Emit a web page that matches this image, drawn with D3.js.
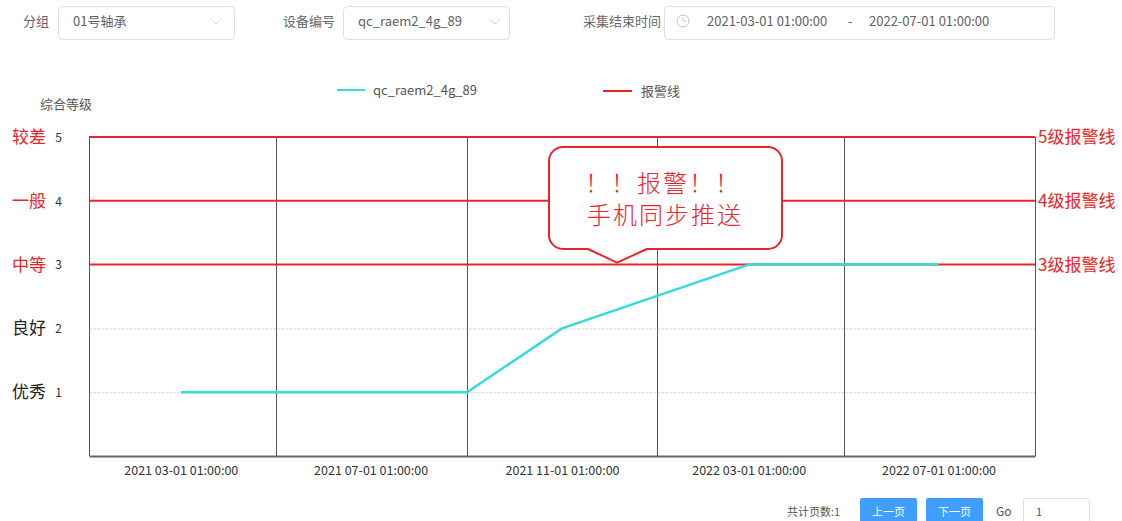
<!DOCTYPE html>
<html>
<head>
<meta charset="utf-8">
<script src="https://cdn.jsdelivr.net/npm/d3@7"></script>
<style>
  html, body { margin: 0; padding: 0; background: #fff; }
  svg { display: block; }
  text { font-family: "Noto Sans CJK SC", "Noto Sans", sans-serif; }
</style>
</head>
<body>
<svg id="chart" width="1122" height="521"></svg>
<script>
// Collection times and overall grade of device qc_raem2_4g_89
const sampleTimes = ["2021-03-01 01:00:00", "2021-09-01 01:00:00", "2021-11-01 01:00:00", "2022-03-01 01:00:00", "2022-07-01 01:00:00"];
const gradeValues = [1, 1, 2, 3, 3];

// x axis: labelled dates and the band boundaries between them
const tickTimes = ["2021-03-01 01:00:00", "2021-07-01 01:00:00", "2021-11-01 01:00:00", "2022-03-01 01:00:00", "2022-07-01 01:00:00"];
const tickLabels = ["2021 03-01 01:00:00", "2021 07-01 01:00:00", "2021 11-01 01:00:00", "2022 03-01 01:00:00", "2022 07-01 01:00:00"];
const bandEdges = ["2021-01-01 01:00:00", "2021-05-01 01:00:00", "2021-09-01 01:00:00", "2022-01-01 01:00:00", "2022-05-01 01:00:00", "2022-09-01 01:00:00"];

// y axis: grade levels and their names
const gradeLevels = [1, 2, 3, 4, 5];
const gradeNames = ["优秀", "良好", "中等", "一般", "较差"];

// alarm thresholds
const alarmLevels = [3, 4, 5];
const alarmLabels = ["3级报警线", "4级报警线", "5级报警线"];

const RED = "#e8262a";
const CYAN = "#33dcd4";

const parse = d3.timeParse("%Y-%m-%d %H:%M:%S");
const svg = d3.select("#chart");

const plot = { left: 89, right: 1035, top: 137, bottom: 456 };
const x = d3.scaleTime()
  .domain([parse(bandEdges[0]), parse(bandEdges[bandEdges.length - 1])])
  .range([plot.left, plot.right]);
const y = d3.scaleLinear().domain([0, 5]).range([plot.bottom, plot.top]);

// ---------- filter bar ----------
const ui = svg.append("g");
function label(tx, ty, s) {
  ui.append("text").attr("x", tx).attr("y", ty).attr("dy", "0.35em")
    .attr("font-size", 13).attr("fill", "#666").text(s);
}
function box(bx, bw) {
  ui.append("rect").attr("x", bx + 0.5).attr("y", 6.5).attr("width", bw).attr("height", 33)
    .attr("rx", 4).attr("fill", "#fff").attr("stroke", "#dcdfe6");
}
function chevron(cx) {
  ui.append("path").attr("d", `M${cx - 5},${19} L${cx},${24} L${cx + 5},${19}`)
    .attr("fill", "none").attr("stroke", "#c8ccd3").attr("stroke-width", 0.8);
}
label(23, 21, "分组");
box(58, 176);
ui.append("text").attr("x", 73).attr("y", 21).attr("dy", "0.35em").attr("font-size", 13).attr("fill", "#606266").text("01号轴承");
chevron(216);

label(283, 21, "设备编号");
box(343, 166);
ui.append("text").attr("x", 358).attr("y", 21).attr("dy", "0.35em").attr("font-size", 13).attr("fill", "#606266").text("qc_raem2_4g_89");
chevron(495);

label(583, 21, "采集结束时间");
box(664, 390);
ui.append("circle").attr("cx", 683).attr("cy", 21).attr("r", 6).attr("fill", "none").attr("stroke", "#c0c4cc");
ui.append("path").attr("d", "M683,17.5 L683,21 L686,21").attr("fill", "none").attr("stroke", "#c0c4cc");
ui.append("text").attr("x", 707).attr("y", 21).attr("dy", "0.35em").attr("font-size", 13).attr("fill", "#606266").text("2021-03-01 01:00:00");
ui.append("text").attr("x", 848).attr("y", 21).attr("dy", "0.35em").attr("font-size", 13).attr("fill", "#606266").text("-");
ui.append("text").attr("x", 869).attr("y", 21).attr("dy", "0.35em").attr("font-size", 13).attr("fill", "#606266").text("2022-07-01 01:00:00");

// ---------- legend ----------
const legend = svg.append("g");
legend.append("line").attr("x1", 337).attr("x2", 365).attr("y1", 90).attr("y2", 90).attr("stroke", CYAN).attr("stroke-width", 2);
legend.append("text").attr("x", 373).attr("y", 90).attr("dy", "0.35em").attr("font-size", 13).attr("fill", "#555").text("qc_raem2_4g_89");
legend.append("line").attr("x1", 603).attr("x2", 632).attr("y1", 91).attr("y2", 91).attr("stroke", RED).attr("stroke-width", 2);
legend.append("text").attr("x", 641).attr("y", 91).attr("dy", "0.35em").attr("font-size", 13).attr("fill", "#555").text("报警线");

svg.append("text").attr("x", 40).attr("y", 104).attr("dy", "0.35em").attr("font-size", 13).attr("fill", "#555").text("综合等级");

// ---------- grid ----------
const grid = svg.append("g");
// light horizontal grid for non-alarm levels
grid.selectAll("line.h").data(gradeLevels.filter(v => !alarmLevels.includes(v))).join("line")
  .attr("class", "h")
  .attr("x1", plot.left).attr("x2", plot.right)
  .attr("y1", d => y(d) + 0.5).attr("y2", d => y(d) + 0.5)
  .attr("stroke", "#d8d8d8").attr("stroke-width", 1).attr("stroke-dasharray", "3,1");

// vertical band boundaries
grid.selectAll("line.v").data(bandEdges).join("line")
  .attr("class", "v")
  .attr("x1", d => Math.round(x(parse(d))) + 0.5).attr("x2", d => Math.round(x(parse(d))) + 0.5)
  .attr("y1", plot.top).attr("y2", plot.bottom)
  .attr("stroke", "#555").attr("stroke-width", 1);

// x axis line and labels
const xAxis = d3.axisBottom(x)
  .tickValues(tickTimes.map(parse))
  .tickSize(0).tickPadding(10)
  .tickFormat((d, i) => tickLabels[i]);
const gx = svg.append("g").attr("transform", `translate(0,${plot.bottom})`).call(xAxis);
gx.select(".domain").attr("stroke", "#666").attr("stroke-width", 2);
gx.selectAll("text").attr("font-size", 12.5).attr("fill", "#333")
  .attr("font-family", "\"Noto Sans CJK SC\", sans-serif");

// y axis numbers and grade names
const yAxis = d3.axisLeft(y).tickValues(gradeLevels).tickSize(0).tickPadding(0).tickFormat(d3.format("d"));
const gy = svg.append("g").attr("transform", `translate(62,0)`).call(yAxis);
gy.select(".domain").remove();
gy.selectAll("text").attr("font-size", 12).attr("fill", "#333").attr("dy", "0.35em");

svg.append("g").selectAll("text").data(gradeLevels).join("text")
  .attr("x", 12).attr("y", d => y(d)).attr("dy", "0.35em")
  .attr("font-size", 17)
  .attr("fill", d => alarmLevels.includes(d) ? RED : "#222")
  .text((d, i) => gradeNames[i]);

// ---------- alarm lines ----------
const alarms = svg.append("g");
alarms.selectAll("line").data(alarmLevels).join("line")
  .attr("x1", plot.left).attr("x2", plot.right)
  .attr("y1", d => y(d)).attr("y2", d => y(d))
  .attr("stroke", RED).attr("stroke-width", 2);
alarms.selectAll("text").data(alarmLevels).join("text")
  .attr("x", plot.right + 3).attr("y", d => y(d)).attr("dy", "0.35em")
  .attr("font-size", 17).attr("fill", RED)
  .text((d, i) => alarmLabels[i]);

// ---------- grade series ----------
const series = sampleTimes.map((t, i) => ({ t: parse(t), v: gradeValues[i] }));
svg.append("path").datum(series)
  .attr("fill", "none").attr("stroke", CYAN).attr("stroke-width", 2.5).attr("stroke-linejoin", "round")
  .attr("d", d3.line().x(d => x(d.t)).y(d => y(d.v)));

// ---------- alarm callout ----------
const callout = svg.append("g");
const bx0 = 549, bx1 = 782, by0 = 147, by1 = 249, r = 14;
const tipX = 617, tipY = y(3) - 2, pL = 588, pR = 647;
const p = d3.path();
p.moveTo(bx0 + r, by0);
p.lineTo(bx1 - r, by0);
p.arcTo(bx1, by0, bx1, by0 + r, r);
p.lineTo(bx1, by1 - r);
p.arcTo(bx1, by1, bx1 - r, by1, r);
p.lineTo(pR, by1);
p.lineTo(tipX, tipY);
p.lineTo(pL, by1);
p.lineTo(bx0 + r, by1);
p.arcTo(bx0, by1, bx0, by1 - r, r);
p.lineTo(bx0, by0 + r);
p.arcTo(bx0, by0, bx0 + r, by0, r);
p.closePath();
callout.append("path").attr("d", p.toString())
  .attr("fill", "#fff").attr("stroke", RED).attr("stroke-width", 2).attr("stroke-linejoin", "round");
callout.append("text").attr("x", 663).attr("y", 184).attr("dy", "0.35em")
  .attr("text-anchor", "middle").attr("font-size", 24).attr("font-weight", 300).attr("letter-spacing", 2).attr("fill", RED)
  .text("！！报警！！");
callout.append("text").attr("x", 665).attr("y", 216).attr("dy", "0.35em")
  .attr("text-anchor", "middle").attr("font-size", 24).attr("font-weight", 300).attr("letter-spacing", 2).attr("fill", RED)
  .text("手机同步推送");

// ---------- pager ----------
const pager = svg.append("g");
pager.append("text").attr("x", 787).attr("y", 512).attr("dy", "0.35em").attr("font-size", 11).attr("fill", "#555").text("共计页数:1");
[["上一页", 860], ["下一页", 926]].forEach(([s, bx]) => {
  pager.append("rect").attr("x", bx).attr("y", 498).attr("width", 57).attr("height", 30).attr("rx", 2).attr("fill", "#409eff");
  pager.append("text").attr("x", bx + 28.5).attr("y", 512).attr("dy", "0.35em").attr("text-anchor", "middle")
    .attr("font-size", 11).attr("fill", "#fff").text(s);
});
pager.append("text").attr("x", 996).attr("y", 512).attr("dy", "0.35em").attr("font-size", 12).attr("fill", "#555").text("Go");
pager.append("rect").attr("x", 1023.5).attr("y", 498.5).attr("width", 66).attr("height", 30).attr("rx", 2).attr("fill", "#fff").attr("stroke", "#dcdfe6");
pager.append("text").attr("x", 1036).attr("y", 512).attr("dy", "0.35em").attr("font-size", 11).attr("fill", "#555").text("1");
</script>
</body>
</html>
